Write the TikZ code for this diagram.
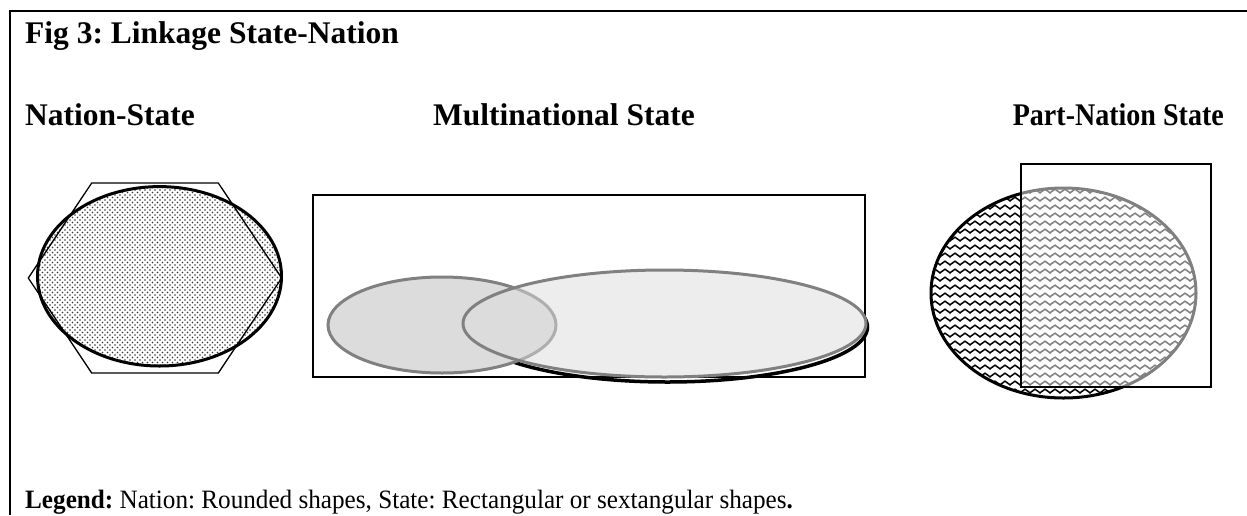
\documentclass[tikz,border=0pt]{standalone}
\usepackage{fontspec}
\setmainfont{Liberation Serif}
\usetikzlibrary{patterns}
\frenchspacing
\pgfdeclarepatternformonly{fdots}{\pgfqpoint{-1pt}{-1pt}}{\pgfqpoint{6pt}{6pt}}{\pgfqpoint{5pt}{5pt}}{%
  \pgfpathcircle{\pgfqpoint{0pt}{0pt}}{0.85pt}%
  \pgfpathcircle{\pgfqpoint{2.5pt}{2.5pt}}{0.85pt}%
  \pgfusepath{fill}}
\pgfdeclarepatternformonly{fzig}{\pgfqpoint{-1pt}{-1pt}}{\pgfqpoint{11pt}{9pt}}{\pgfqpoint{10pt}{8pt}}{%
  \pgfsetlinewidth{1.5pt}%
  \pgfpathmoveto{\pgfqpoint{-0.5pt}{1.85pt}}%
  \pgfpathlineto{\pgfqpoint{0pt}{2.2pt}}%
  \pgfpathlineto{\pgfqpoint{5pt}{5.8pt}}%
  \pgfpathlineto{\pgfqpoint{10pt}{2.2pt}}%
  \pgfpathlineto{\pgfqpoint{10.5pt}{2.55pt}}%
  \pgfusepath{stroke}}
\definecolor{midgrey}{gray}{0.5}
\definecolor{smallfill}{gray}{0.863}
\definecolor{largefill}{gray}{0.866}
\tikzset{
  heading/.style={inner sep=0pt, font=\bfseries\fontsize{31.5}{36}\selectfont},
  legendtext/.style={inner sep=0pt, font=\fontsize{26.5}{30}\selectfont},
  statebox/.style={draw=black, line width=1.5pt},
  nationblack/.style={draw=black, line width=3pt},
  nationgrey/.style={draw=midgrey, line width=3pt}
}
\begin{document}
\begin{tikzpicture}[x=1pt,y=-1pt]
\useasboundingbox (0,0) rectangle (1247,515);
% frame
\draw[line width=2pt] (10,515) -- (10,11) -- (1247,11);
% texts
\node[heading, anchor=base west] (title) at (25,43) {Fig 3: Linkage State-Nation};
\node[heading, anchor=base west] (hns) at (25,125) {Nation-State};
\node[heading, anchor=base west] (hms) at (433,125) {Multinational State};
\node[heading, anchor=base east] (hps) at (1224,125) {\scalebox{0.89}[1]{Part-Nation State}};
\node[legendtext, anchor=base west] (legend) at (25,508) {\scalebox{0.95}[1]{\textbf{Legend:} Nation: Rounded shapes, State: Rectangular or sextangular shapes\textbf{.}}};
% Nation-State
\fill[pattern=fdots, pattern color=black!80] (159.5,276.3) ellipse [x radius=122, y radius=89.7];
\draw[nationblack] (159.5,276.3) ellipse [x radius=122, y radius=89.7];
\draw[statebox, line width=1.3pt] (28.3,278) -- (91.7,183) -- (218.3,183) -- (281.7,278) -- (218.3,373) -- (91.7,373) -- cycle;
% Multinational State
\draw[statebox] (313,195) rectangle (865,377);
\draw[draw=black, line width=3.5pt] (667.5,327) ellipse [x radius=200, y radius=55];
\fill[white] (664.5,323.5) ellipse [x radius=201.5, y radius=53.5];
\draw[nationgrey, fill=smallfill] (442,325) ellipse [x radius=114, y radius=48];
\draw[nationgrey, fill=largefill, fill opacity=0.5] (664.5,323.5) ellipse [x radius=201.5, y radius=53.5];
% Part-Nation State
\fill[pattern=fzig, pattern color=black] (1063.5,293) ellipse [x radius=132.5, y radius=105];
\draw[nationblack] (1063.5,293) ellipse [x radius=132.5, y radius=105];
\fill[white, opacity=0.5] (1021,164) rectangle (1211,387);
\draw[statebox] (1021,164) rectangle (1211,387);
\end{tikzpicture}
\end{document}
